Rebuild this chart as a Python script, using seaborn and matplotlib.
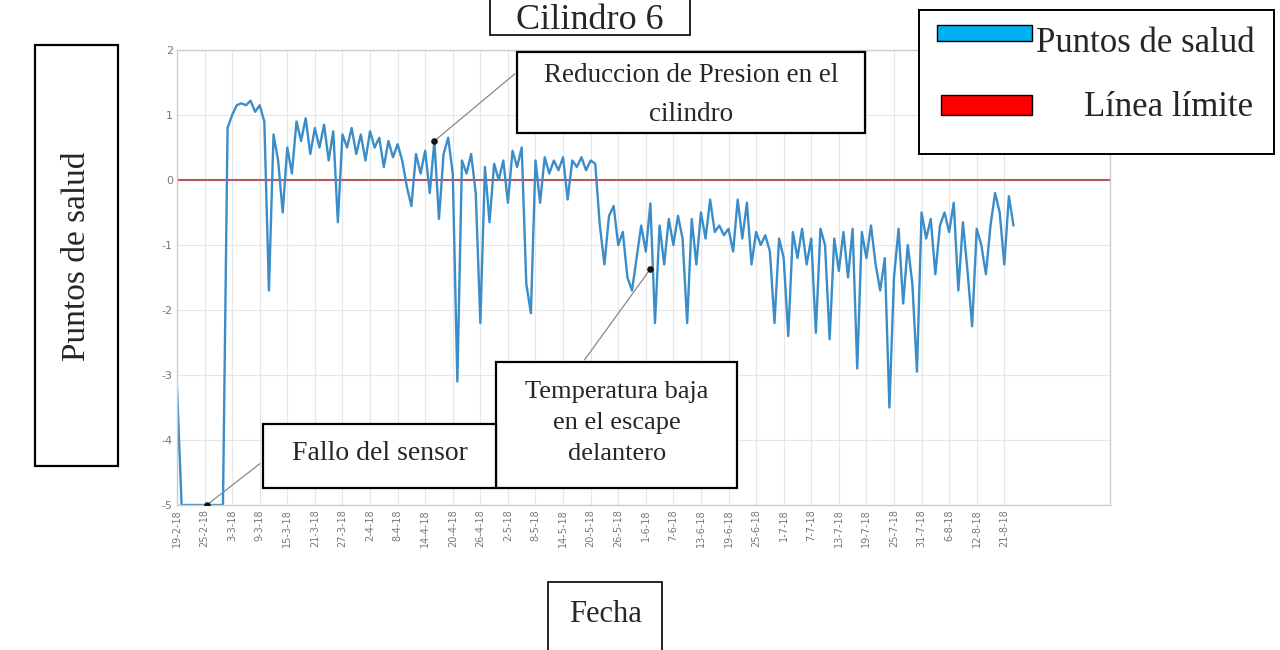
import matplotlib
matplotlib.use('Agg')
import matplotlib.pyplot as plt
from matplotlib.patches import Rectangle
import seaborn as sns
import numpy as np
import pandas as pd

# health points, one value every 1/6 of a date tick
salud = [
    -3.2, -5.0, -5.0, -5.0, -5.0, -5.0, -5.0, -5.0, -5.0, -5.0, -5.0,
    0.8, 1.0, 1.15, 1.18, 1.15, 1.22, 1.05, 1.15, 0.9, -1.7,
    0.7, 0.3, -0.5, 0.5, 0.1, 0.9, 0.6, 0.95, 0.4, 0.8,
    0.5, 0.85, 0.3, 0.75, -0.65, 0.7, 0.5, 0.8, 0.4, 0.7,
    0.3, 0.75, 0.5, 0.65, 0.2, 0.6, 0.35, 0.55, 0.3, -0.1,
    -0.4, 0.4, 0.1, 0.45, -0.2, 0.6, -0.6, 0.4, 0.65, 0.1,
    -3.1, 0.3, 0.1, 0.4, -0.2, -2.2, 0.2, -0.65, 0.25, 0.0,
    0.3, -0.35, 0.45, 0.2, 0.5, -1.6, -2.05, 0.3, -0.35, 0.35,
    0.1, 0.3, 0.15, 0.35, -0.3, 0.3, 0.2, 0.35, 0.15, 0.3,
    0.25, -0.7, -1.3, -0.55, -0.4, -1.0, -0.8, -1.5, -1.7, -1.2,
    -0.7, -1.1, -0.36, -2.2, -0.7, -1.3, -0.6, -1.0, -0.55, -0.9,
    -2.2, -0.6, -1.3, -0.5, -0.9, -0.3, -0.8, -0.7, -0.85, -0.75,
    -1.1, -0.3, -0.9, -0.35, -1.3, -0.8, -1.0, -0.85, -1.1, -2.2,
    -0.9, -1.2, -2.4, -0.8, -1.2, -0.75, -1.3, -0.9, -2.35, -0.75,
    -1.0, -2.45, -0.9, -1.4, -0.8, -1.5, -0.75, -2.9, -0.8, -1.2,
    -0.7, -1.3, -1.7, -1.2, -3.5, -1.5, -0.75, -1.9, -1.0, -1.6,
    -2.95, -0.5, -0.9, -0.6, -1.45, -0.7, -0.5, -0.8, -0.35, -1.7,
    -0.65, -1.4, -2.25, -0.75, -1.0, -1.45, -0.7, -0.2, -0.5, -1.3,
    -0.25, -0.7,
]
limite = 0.0

fechas = ['19-2-18', '25-2-18', '3-3-18', '9-3-18', '15-3-18', '21-3-18',
          '27-3-18', '2-4-18', '8-4-18', '14-4-18', '20-4-18', '26-4-18',
          '2-5-18', '8-5-18', '14-5-18', '20-5-18', '26-5-18', '1-6-18',
          '7-6-18', '13-6-18', '19-6-18', '25-6-18', '1-7-18', '7-7-18',
          '13-7-18', '19-7-18', '25-7-18', '31-7-18', '6-8-18', '12-8-18',
          '21-8-18']
pasos_por_fecha = 6

notas = ['Reduccion de Presion en el\ncilindro',
         'Temperatura baja\nen el escape\ndelantero',
         'Fallo del sensor']
notas_x = [56, 103, 6.5]
notas_y = [0.6, -1.37, -5.0]

df = pd.DataFrame({'idx': np.arange(len(salud)), 'salud': salud})

W, H = 1280, 650


def fx(px):
    return px / W


def fy(py):
    return 1 - py / H


sns.set_style('whitegrid')
fig = plt.figure(figsize=(12.8, 6.5), dpi=100)
ax = fig.add_axes([fx(177), fy(505), fx(1110) - fx(177), fy(50) - fy(505)])

sns.lineplot(data=df, x='idx', y='salud', ax=ax, color='#3a8dc8', linewidth=1.7)
ax.axhline(limite, color='#b5555c', linewidth=1.5, zorder=1)

ax.set_xlim(0, 203)
ax.set_ylim(-5, 2)
ax.set_xticks(np.arange(len(fechas)) * pasos_por_fecha)
ax.set_xticklabels(fechas, rotation=90, fontsize=7, color='#777777')
ax.set_yticks(range(-5, 3))
ax.set_yticklabels([str(v) for v in range(-5, 3)], fontsize=8, color='#777777')
ax.set_xlabel('')
ax.set_ylabel('')
ax.grid(True, color='#e6e6e6', linewidth=0.8)
ax.tick_params(axis='both', direction='in', length=3, color='#aaaaaa', pad=3)
for s in ax.spines.values():
    s.set_color('#cccccc')
    s.set_linewidth(1.0)

serif = ['Liberation Serif', 'DejaVu Serif']

# annotation dots and leader lines
ax.scatter(notas_x, notas_y, s=14, color='#111111', zorder=5)
ends = [(517, 72), (583, 362), (262, 462)]
for nx, ny, (ex, ey) in zip(notas_x, notas_y, ends):
    ax.annotate('', xy=(nx, ny), xytext=(fx(ex), fy(ey)), textcoords='figure fraction',
                arrowprops=dict(arrowstyle='-', color='#888888', lw=0.9), annotation_clip=False)


def caja(x0, y0, x1, y1, lw=1.6):
    r = Rectangle((fx(x0), fy(y1)), fx(x1) - fx(x0), fy(y0) - fy(y1), transform=fig.transFigure,
                  facecolor='white', edgecolor='black', linewidth=lw, zorder=10)
    fig.add_artist(r)


# annotation boxes
caja(517, 52, 865, 133)
fig.text(fx(691), fy(95), notas[0], ha='center', va='center', fontsize=19.5, family=serif,
         linespacing=1.75, zorder=11)
caja(496, 362, 737, 488)
fig.text(fx(617), fy(423), notas[1], ha='center', va='center', fontsize=19, family=serif,
         linespacing=1.55, zorder=11)
caja(263, 424, 496, 488)
fig.text(fx(380), fy(454), notas[2], ha='center', va='center', fontsize=20, family=serif, zorder=11)

# title, y label and x label boxes
caja(490, -5, 690, 35, lw=1.2)
fig.text(fx(590), fy(29), 'Cilindro 6', ha='center', va='baseline', fontsize=26, family=serif, zorder=11)
caja(35, 45, 118, 466, lw=1.6)
fig.text(fx(77), fy(256), 'Puntos de salud', ha='center', va='center', rotation=90,
         fontsize=24, family=serif, zorder=11)
caja(548, 582, 662, 660, lw=1.2)
fig.text(fx(605), fy(615), 'Fecha', ha='center', va='center', fontsize=22, family=serif, zorder=11)

# legend
caja(919, 10, 1274, 154, lw=1.4)
fig.add_artist(Rectangle((fx(937), fy(41)), fx(95), fy(0) - fy(16), transform=fig.transFigure,
                         facecolor='#00b0f0', edgecolor='black', linewidth=1.0, zorder=12))
fig.add_artist(Rectangle((fx(941), fy(115)), fx(91), fy(0) - fy(20), transform=fig.transFigure,
                         facecolor='#ff0000', edgecolor='black', linewidth=1.0, zorder=12))
fig.text(fx(1036), fy(44), 'Puntos de salud', ha='left', va='center', fontsize=25, family=serif, zorder=12)
fig.text(fx(1253), fy(108), 'Línea límite', ha='right', va='center', fontsize=25, family=serif, zorder=12)

fig.savefig('out.png', dpi=100)
